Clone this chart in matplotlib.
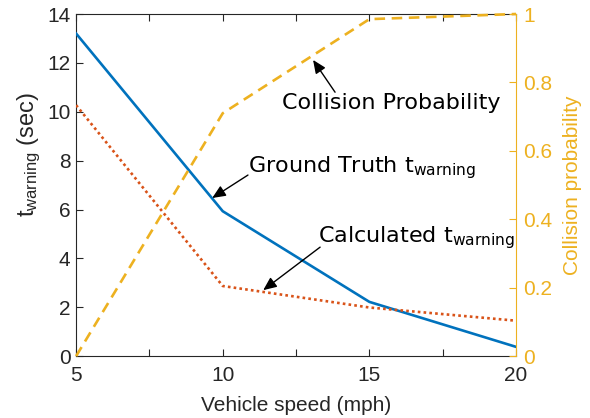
import matplotlib
matplotlib.use("Agg")
import matplotlib.pyplot as plt
from matplotlib.ticker import FixedLocator

speed = [5, 10, 15, 20]
t_ground_truth = [13.2, 5.93, 2.22, 0.38]
t_calculated = [10.27, 2.87, 1.99, 1.45]
collision_prob = [0.0, 0.71, 0.985, 1.0]

x_ticks = [5, 10, 15, 20]
x_minor = [7.5, 12.5, 17.5]
y_ticks = [0, 2, 4, 6, 8, 10, 12, 14]
y2_ticks = [0, 0.2, 0.4, 0.6, 0.8, 1.0]
y2_labels = ["0", "0.2", "0.4", "0.6", "0.8", "1"]

BLUE = "#0072BD"
RED = "#D95319"
YEL = "#EDB120"
DARK = "#262626"

plt.rcParams['font.family'] = ['Liberation Sans', 'DejaVu Sans']
plt.rcParams['mathtext.fontset'] = 'custom'
plt.rcParams['mathtext.rm'] = 'Liberation Sans'
plt.rcParams['mathtext.it'] = 'Liberation Sans'

fig = plt.figure(figsize=(5.9, 4.18), dpi=100)
ax = fig.add_axes([0.129, 0.148, 0.7456, 0.8185])
ax2 = ax.twinx()

ax.plot(speed, t_ground_truth, color=BLUE, lw=1.9, zorder=3)
ax.plot(speed, t_calculated, color=RED, lw=1.9, ls=(0, (1, 1.2)), zorder=3)
ax2.plot(speed, collision_prob, color=YEL, lw=1.9, ls=(0, (4, 2.5)), clip_on=False)

ax.set_xlim(5, 20)
ax.set_ylim(0, 14)
ax2.set_ylim(0, 1)

ax.set_xticks(x_ticks)
ax.xaxis.set_minor_locator(FixedLocator(x_minor))
ax.set_yticks(y_ticks)
ax2.set_yticks(y2_ticks)
ax2.set_yticklabels(y2_labels)

ax.tick_params(axis='both', which='both', direction='in', top=True, labelsize=15, colors=DARK, width=0.8)
ax.tick_params(axis='x', which='major', length=5, pad=7)
ax.tick_params(axis='x', which='minor', length=5)
ax.tick_params(axis='y', length=5, pad=4)
ax2.tick_params(axis='y', direction='in', labelsize=15, colors=YEL, length=5, width=0.8, pad=5)

for s in ['left', 'bottom', 'top']:
    ax.spines[s].set_color(DARK)
    ax.spines[s].set_linewidth(0.8)
ax2.spines['right'].set_color(YEL)
ax2.spines['right'].set_linewidth(0.8)
ax2.spines['left'].set_visible(False)
ax2.spines['top'].set_visible(False)
ax2.spines['bottom'].set_visible(False)
ax.spines['right'].set_visible(False)

ax.set_xlabel("Vehicle speed (mph)", fontsize=15, color=DARK, labelpad=8)
ax.set_ylabel(r"t$_{\mathrm{warning}}$ (sec)", fontsize=17, color=DARK)
ax.yaxis.set_label_coords(-0.075, 0.59)
ax2.set_ylabel("Collision probability", fontsize=15, color=YEL, labelpad=8)

afont = dict(fontsize=16, family='DejaVu Sans', color='black', va='center', ha='left')
ap = dict(arrowstyle='-|>,head_length=0.8,head_width=0.35', color='black', lw=1.0, shrinkA=0, shrinkB=0)

ax.annotate("", xy=(13.08, 12.12), xytext=(13.83, 10.8), arrowprops=ap, zorder=5)
ax.text(12.02, 10.36, "Collision Probability", **afont)

ax.annotate("", xy=(9.64, 6.47), xytext=(10.86, 7.41), arrowprops=ap, zorder=5)
ax.text(10.86, 7.7, r"Ground Truth t$_{\mathrm{warning}}$", **afont,
        math_fontfamily='dejavusans')

ax.annotate("", xy=(11.38, 2.70), xytext=(13.32, 4.46), arrowprops=ap, zorder=5)
ax.text(13.25, 4.87, r"Calculated t$_{\mathrm{warning}}$", **afont,
        math_fontfamily='dejavusans')

fig.savefig("out.png", dpi=100)
